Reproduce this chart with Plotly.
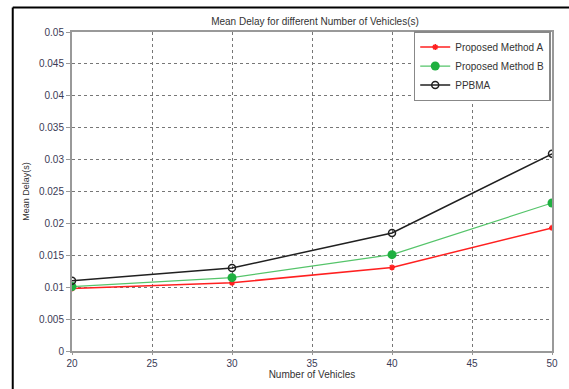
import plotly.graph_objects as go

vehicles = [20, 30, 40, 50]
method_a = [0.0098, 0.0107, 0.0131, 0.0193]
method_b = [0.0101, 0.0115, 0.0151, 0.0232]
ppbma = [0.0110, 0.0130, 0.0185, 0.0309]

x_ticks = [20, 25, 30, 35, 40, 45, 50]
y_ticks = [0, 0.005, 0.01, 0.015, 0.02, 0.025, 0.03, 0.035, 0.04, 0.045, 0.05]
y_labels = ["0", "0.005", "0.01", "0.015", "0.02", "0.025", "0.03", "0.035", "0.04", "0.045", "0.05"]

fig = go.Figure()
fig.add_trace(go.Scatter(x=vehicles, y=method_a, name="Proposed Method A", mode="lines+markers",
                         line=dict(color="#ff2020", width=1.5),
                         marker=dict(symbol="asterisk", size=5, color="#ff2020", line=dict(color="#ff2020", width=1.5))))
fig.add_trace(go.Scatter(x=vehicles, y=method_b, name="Proposed Method B", mode="lines+markers",
                         line=dict(color="#55c46a", width=1.2),
                         marker=dict(symbol="circle", size=9, color="#1fb040")))
fig.add_trace(go.Scatter(x=vehicles, y=ppbma, name="PPBMA", mode="lines+markers",
                         line=dict(color="#202020", width=1.5),
                         marker=dict(symbol="circle-open", size=7, color="#202020", line=dict(width=1.5))))

# plot area wanted at page x 72..558, y 32..359 (body margin removed below)
W, H = 569, 389
L, R, T, B = 72, 11, 32, 30
pw, ph = W - L - R, H - T - B

axis_font = dict(family="Liberation Sans, Arial", size=10, color="#3a3a55")
fig.update_layout(
    width=W, height=H,
    margin=dict(l=L, r=R, t=T, b=B),
    paper_bgcolor="white", plot_bgcolor="white",
    title=dict(text="Mean Delay for different Number of Vehicles(s)", x=(L + pw / 2) / W, xanchor="center",
               y=1 - 21 / H, yanchor="middle", font=dict(family="Liberation Sans, Arial", size=10, color="#333")),
    xaxis=dict(range=[20, 50], tickvals=x_ticks, ticktext=[str(v) for v in x_ticks],
               showgrid=True, gridcolor="#777", griddash="dot", gridwidth=1,
               showline=True, linecolor="#999", linewidth=2, mirror=True, zeroline=False,
               ticks="outside", ticklen=2, tickcolor="#999", tickfont=axis_font,
               title=dict(text="Number of Vehicles", font=dict(family="Liberation Sans, Arial", size=10, color="#333"), standoff=2)),
    yaxis=dict(range=[0, 0.05], tickvals=y_ticks, ticktext=y_labels,
               showgrid=True, gridcolor="#777", griddash="dot", gridwidth=1,
               showline=True, linecolor="#999", linewidth=2, mirror=True, zeroline=False,
               ticks="outside", ticklen=4, tickcolor="#999", tickfont=axis_font,
               title=dict(text="Mean Delay(s)", font=dict(family="Liberation Sans, Arial", size=9, color="#333"), standoff=8)),
    legend=dict(x=(418 - L) / pw, y=1.003, xanchor="left", yanchor="top", bgcolor="white",
                bordercolor="#888", borderwidth=1.5,
                font=dict(family="Liberation Sans, Arial", size=10, color="#333"),
                tracegroupgap=0, itemwidth=30),
    showlegend=True,
)
top_y = (ph + T - 7) / ph
left_x = (12 - L) / pw
fig.add_shape(type="line", xref="paper", yref="paper", x0=left_x, x1=1.05, y0=top_y, y1=top_y,
              line=dict(color="black", width=2))
fig.add_shape(type="line", xref="paper", yref="paper", x0=left_x, x1=left_x, y0=top_y, y1=-0.2,
              line=dict(color="black", width=2))
fig.write_html("out.html", config={"displayModeBar": False},
               post_script="document.documentElement.style.overflow='hidden';document.body.style.margin='0px';document.body.style.overflow='hidden';")
